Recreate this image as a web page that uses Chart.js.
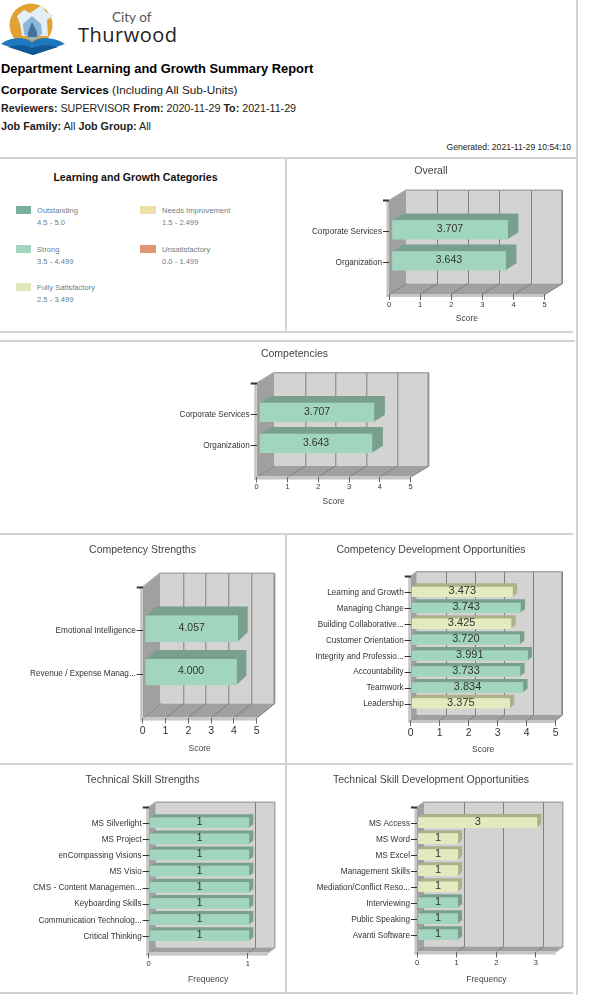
<!DOCTYPE html>
<html><head><meta charset="utf-8">
<script src="https://cdn.jsdelivr.net/npm/chart.js@4"></script>
<style>
html,body{margin:0;padding:0;background:#fff;overflow:hidden}
body{width:589px;height:995px;position:relative;font-family:"Liberation Sans",Arial,sans-serif;color:#222;filter:blur(.3px)}
.t{position:absolute;white-space:nowrap}
.l{position:absolute;background:#d3d3d3}
canvas{position:absolute}
.sw{position:absolute;width:15px;height:8px}
.lg{position:absolute;font-size:7.5px;color:#67808c;white-space:nowrap;letter-spacing:.05px}
</style></head><body>
<svg class="t" style="left:0;top:0" width="70" height="58" viewBox="0 0 70 58">
 <defs><filter id="soft"><feGaussianBlur stdDeviation=".7"/></filter></defs>
 <circle cx="31" cy="25" r="21.5" fill="#e2a133"/>
 <g filter="url(#soft)">
 <path d="M17 16 L24 10 L30 13 L42 5 L46 12 L54 15 L47 20 L48 36 L22 36 L20 24 Z" fill="#e4eef6"/>
 <path d="M23 24 L32 16 L41 24 L42 34 L32 41 L24 34 Z" fill="#8db6d8"/>
 <path d="M28 32 L32 22 L37 32 L37 37 L28 37 Z" fill="#44729c"/>
 </g>
 <path d="M1 44 C10 37 24 36 32 42 C40 36 54 37 65 44 L33 55 Z" fill="#1f78bd"/>
 <path d="M8 47 C18 44 26 45 32 48 C40 45 48 44 58 47 L33 55 Z" fill="#0f5a96"/>
</svg>
<div class="t" style="left:112px;top:9px;font:13.5px Lato,sans-serif;color:#555">City of</div>
<div class="t" style="left:78px;top:21px;font:20px 'Open Sans',sans-serif;color:#222;letter-spacing:.5px">Thurwood</div>

<div class="t" style="left:1px;top:61px;font:bold 12.9px/16px 'Liberation Sans';color:#000">Department Learning and Growth Summary Report</div>
<div class="t" style="left:1px;top:82px;font:11.75px/16px 'Liberation Sans'"><b style="color:#000">Corporate Services</b> (Including All Sub-Units)</div>
<div class="t" style="left:1px;top:100px;font:10.7px/16px 'Liberation Sans'"><b>Reviewers:</b> SUPERVISOR <b>From:</b> 2020-11-29 <b>To:</b> 2021-11-29</div>
<div class="t" style="left:1px;top:118px;font:10.8px/16px 'Liberation Sans'"><b>Job Family:</b> All <b>Job Group:</b> All</div>
<div class="t" style="right:18px;top:139px;font:8.6px/16px 'Liberation Sans'">Generated: 2021-11-29 10:54:10</div>

<div class="l" style="left:576px;top:0;width:1.5px;height:995px"></div>
<div class="l" style="left:0;top:157px;width:576px;height:1.5px"></div>
<div class="l" style="left:285px;top:157px;width:1.5px;height:174px"></div>
<div class="l" style="left:0;top:331px;width:573px;height:1.5px"></div>
<div class="l" style="left:0;top:340px;width:575px;height:1.5px"></div>
<div class="l" style="left:0;top:533px;width:573px;height:1.5px"></div>
<div class="l" style="left:285px;top:533px;width:1.5px;height:460px"></div>
<div class="l" style="left:0;top:763px;width:573px;height:1.5px"></div>
<div class="l" style="left:0;top:992px;width:573px;height:1.5px"></div>

<div class="t" style="left:0;width:271px;top:169px;text-align:center;font:bold 10.6px/16px 'Liberation Sans';color:#111">Learning and Growth Categories</div>
<div id="legend"></div>

<script>
// ---- legend ----
const legendNames = ['Outstanding','Strong','Fully Satisfactory','Needs Improvement','Unsatisfactory'];
const legendRanges = ['4.5 - 5.0','3.5 - 4.499','2.5 - 3.499','1.5 - 2.499','0.0 - 1.499'];

// ---- chart data ----
const overallCats = ['Corporate Services','Organization'];
const overallVals = [3.707,3.643];
const overallBands = ['strong','strong'];

const competencyCats = ['Corporate Services','Organization'];
const competencyVals = [3.707,3.643];
const competencyBands = ['strong','strong'];

const strengthCats = ['Emotional Intelligence','Revenue / Expense Manag...'];
const strengthVals = [4.057,4.000];
const strengthBands = ['strong','strong'];

const devCats = ['Learning and Growth','Managing Change','Building Collaborative...','Customer Orientation','Integrity and Professio...','Accountability','Teamwork','Leadership'];
const devVals = [3.473,3.743,3.425,3.720,3.991,3.733,3.834,3.375];
const devBands = ['fully','strong','fully','strong','strong','strong','strong','fully'];

const techStrengthCats = ['MS Silverlight','MS Project','enCompassing Visions','MS Visio','CMS - Content Managemen...','Keyboarding Skills','Communication Technolog...','Critical Thinking'];
const techStrengthVals = [1,1,1,1,1,1,1,1];
const techStrengthBands = ['strong','strong','strong','strong','strong','strong','strong','strong'];

const techDevCats = ['MS Access','MS Word','MS Excel','Management Skills','Mediation/Conflict Reso...','Interviewing','Public Speaking','Avanti Software'];
const techDevVals = [3,1,1,1,1,1,1,1];
const techDevBands = ['fully','fully','fully','fully','fully','strong','strong','strong'];

// ---- styling ----
const legendColors = ['#7bb0a0','#a2d5be','#deeab9','#ede0a8','#e09870'];
const legendSpots = [[16,206],[16,245],[16,283],[140,206],[140,245]];
const front = {strong:'#a2d5be',fully:'#e3ebbe'};
const side  = {strong:'#79a08d',fully:'#aeb08c'};

const lg = document.getElementById('legend');
legendNames.forEach((n,i)=>{
  const [x,y]=legendSpots[i], tx = x===16?37:162;
  lg.insertAdjacentHTML('beforeend',
   `<div class="sw" style="left:${x}px;top:${y}px;width:${x===16?15:16}px;background:${legendColors[i]}"></div>
    <div class="lg" style="left:${tx}px;top:${y}px;line-height:9px">${n}</div>
    <div class="lg" style="left:${tx}px;top:${y+11.5}px;line-height:9px">${legendRanges[i]}</div>`);
});

// depth plugin: walls, floor, bars' 3D faces all read from the chart's scales/elements
const depth3d = {
  id:'depth3d',
  afterLayout(chart){
    // keep the chart title centred on the whole cell, not on the inset plot
    if(chart.titleBlock){chart.titleBlock.left=0;chart.titleBlock.right=chart.width;}
  },
  beforeDraw(chart,_a,o){
    const {ctx,chartArea:a,scales:{x}}=chart, dx=o.dx, dy=o.dy;
    const L=a.left,R=a.right,T=a.top,B=a.bottom;
    ctx.save();
    // back wall
    ctx.fillStyle='#d3d3d3'; ctx.fillRect(L+dx,T-dy,R-L,B-T);
    // left wall
    ctx.fillStyle='#a0a0a0';
    ctx.beginPath();ctx.moveTo(L,T);ctx.lineTo(L+dx,T-dy);ctx.lineTo(L+dx,B-dy);ctx.lineTo(L,B);ctx.closePath();ctx.fill();
    // floor
    ctx.beginPath();ctx.moveTo(L,B);ctx.lineTo(L+dx,B-dy);ctx.lineTo(R+dx,B-dy);ctx.lineTo(R,B);ctx.closePath();ctx.fill();
    // wall rim
    ctx.strokeStyle='#a8a8a8';ctx.lineWidth=1.6;
    ctx.beginPath();ctx.moveTo(L,T);ctx.lineTo(L+dx,T-dy);ctx.lineTo(R+dx,T-dy);ctx.lineTo(R+dx,B-dy);ctx.lineTo(R,B);ctx.stroke();
    // grid lines
    ctx.strokeStyle='#7f7f7f';ctx.lineWidth=1;
    x.ticks.forEach((t,i)=>{
      const px=Math.round(x.getPixelForValue(t.value));
      ctx.beginPath();
      if(i>0){ctx.moveTo(px+dx+.5,T-dy);ctx.lineTo(px+dx+.5,B-dy);}
      else{ctx.moveTo(px+dx+.5,B-dy);}
      ctx.lineTo(px+.5,B);ctx.stroke();
    });
    // front lip
    ctx.fillStyle='#c6c6c6';
    ctx.fillRect(L-2.5,T,2.5,B-T+3);
    ctx.fillRect(L-2.5,B,R-L+2.5,3);
    ctx.restore();
  },
  beforeDatasetDraw(chart,args,o){
    const {ctx}=chart, meta=args.meta;
    ctx.save();
    meta.data.forEach((el,i)=>{
      const v=chart.data.datasets[args.index].data[i];
      if(v===null) return;
      const h=el.height, l=el.base+o.ox, r=el.x+o.ox, t=el.y-h/2+o.oy, b=el.y+h/2+o.oy;
      ctx.fillStyle=side[chart.data.datasets[args.index].bands[i]];
      ctx.beginPath();ctx.moveTo(l,t);ctx.lineTo(l+o.bdx,t-o.bdy);ctx.lineTo(r+o.bdx,t-o.bdy);
      ctx.lineTo(r+o.bdx,b-o.bdy);ctx.lineTo(r,b);ctx.lineTo(r,t);ctx.closePath();ctx.fill();
    });
    ctx.translate(o.ox,o.oy);
  },
  afterDatasetDraw(chart){ chart.ctx.restore(); },
  afterDatasetsDraw(chart,_a,o){
    const {ctx}=chart, ds=chart.data.datasets[0], meta=chart.getDatasetMeta(0);
    ctx.save();
    ctx.font=`${o.valueSize}px "Liberation Sans"`;ctx.fillStyle='#333';ctx.textAlign='center';ctx.textBaseline='middle';
    meta.data.forEach((el,i)=>{
      const v=ds.data[i];
      if(v===null) return;
      ctx.fillText(o.digits?v.toFixed(o.digits):String(v),(el.base+el.x)/2+o.ox,el.y+o.oy-.7+o.valueDy);
    });
    ctx.restore();
  }
};

function make(cfg){
  const c=document.createElement('canvas');
  c.width=cfg.box[2]-cfg.box[0];c.height=cfg.box[3]-cfg.box[1];
  c.style.left=cfg.box[0]+'px';c.style.top=cfg.box[1]+'px';
  document.body.appendChild(c);
  const LH=1.2, titleSize=10.5, axSize=8.5;
  const tl=titleSize*LH, al=axSize*LH;
  new Chart(c,{
    type:'bar',
    plugins:[depth3d],
    data:{
      labels:['',...cfg.cats,''],
      datasets:[{
        data:[null,...cfg.vals,null],
        bands:[null,...cfg.bands,null],
        backgroundColor:['#0000',...cfg.bands.map(b=>front[b]),'#0000'],
        borderWidth:0,
        barThickness:cfg.bar,
        clip:false
      }]
    },
    options:{
      indexAxis:'y',responsive:false,animation:false,events:[],
      layout:{padding:{left:0,top:0,bottom:0,right:cfg.box[2]-cfg.xR}},
      plugins:{
        legend:{display:false},tooltip:{enabled:false},
        title:{display:true,text:cfg.title,color:'#444',
          font:{family:'"Liberation Sans"',size:titleSize,weight:'normal',lineHeight:LH},
          padding:{top:cfg.titleY-cfg.box[1]-tl/2,bottom:cfg.yTop-cfg.titleY-tl/2}},
        depth3d:{dx:cfg.dx,dy:cfg.dy,ox:cfg.ox,oy:cfg.oy,bdx:cfg.bdx,bdy:cfg.bdy,
                 valueSize:cfg.valueSize,digits:cfg.digits,valueDy:cfg.valueDy||0}
      },
      scales:{
        x:{type:'linear',min:0,max:cfg.max,position:'bottom',
          ticks:{stepSize:1,color:'#333',maxRotation:0,minRotation:0,padding:cfg.tickPad,
                 font:{family:'"Liberation Sans"',size:cfg.tickSize}},
          grid:{drawOnChartArea:false,drawTicks:true,tickLength:6,tickColor:'#666',tickWidth:1},
          border:{display:false},
          title:{display:true,text:cfg.axis,color:'#444',
                 font:{family:'"Liberation Sans"',size:axSize,lineHeight:LH},
                 padding:{top:0,bottom:cfg.box[3]-cfg.axisY-al/2}},
          afterBuildTicks:s=>{s.ticks=s.ticks.filter(t=>Number.isInteger(t.value));},
          afterFit:s=>{s.height=cfg.box[3]-cfg.yBot;}
        },
        y:{type:'category',offset:false,position:'left',
          ticks:{autoSkip:false,color:'#333',padding:1,maxRotation:0,minRotation:0,
                 font:{family:'"Liberation Sans"',size:8.2}},
          grid:{offset:false,drawOnChartArea:false,drawTicks:true,tickLength:6,
                tickColor:ctx=>ctx.index===cfg.cats.length+1?'rgba(0,0,0,0)':'#333',
                tickWidth:ctx=>ctx.index===0?2:1},
          border:{display:false},
          afterFit:s=>{s.width=cfg.x0-cfg.box[0];}
        }
      }
    }
  });
}

const large={bar:18.7,ox:3,oy:-2,bdx:11,bdy:7,valueSize:10.5,digits:3,tickSize:7.5,tickPad:0};
make({...large,title:'Overall',axis:'Score',cats:overallCats,vals:overallVals,bands:overallBands,max:5,
  box:[286,158,576,331],x0:389,xR:544.7,yTop:200.7,yBot:294,dx:17,dy:10.5,titleY:171,axisY:318.7});
make({...large,title:'Competencies',axis:'Score',cats:competencyCats,vals:competencyVals,bands:competencyBands,max:5,
  box:[0,341,589,533],x0:256.7,xR:410.7,yTop:383.3,yBot:476.5,dx:17.3,dy:10.5,titleY:354,axisY:501.7});
make({title:'Competency Strengths',axis:'Score',cats:strengthCats,vals:strengthVals,bands:strengthBands,max:5,
  box:[0,534,285,763],x0:142.7,xR:256.7,yTop:587.3,yBot:717.5,dx:17.3,dy:14,titleY:550,axisY:748.3,
  bar:25.7,ox:2.5,oy:-2,bdx:10,bdy:9.3,valueSize:10.5,digits:3,tickSize:10.5,tickPad:1});
make({title:'Competency Development Opportunities',axis:'Score',cats:devCats,vals:devVals,bands:devBands,max:5,
  box:[286,534,576,763],x0:410.7,xR:555.7,yTop:576.7,yBot:720,dx:6,dy:5,titleY:550,axisY:750,
  bar:9.7,ox:1,oy:-.7,bdx:4.7,bdy:3.7,valueSize:11,digits:3,tickSize:10.5,tickPad:1});
make({title:'Technical Skill Strengths',axis:'Frequency',cats:techStrengthCats,vals:techStrengthVals,bands:techStrengthBands,max:1.2,
  box:[0,765,285,992],x0:148.7,xR:267.7,yTop:807.3,yBot:952.6,dx:7,dy:5,titleY:780,axisY:980,
  bar:10,ox:1,oy:-.7,bdx:4.5,bdy:3.5,valueSize:11,digits:0,tickSize:7.5,tickPad:1});
make({title:'Technical Skill Development Opportunities',axis:'Frequency',cats:techDevCats,vals:techDevVals,bands:techDevBands,max:3.5,
  box:[286,765,576,992],x0:417,xR:555.7,yTop:807.3,yBot:951.5,dx:7,dy:5,titleY:780,axisY:980,
  bar:10,ox:1,oy:-.7,bdx:4.5,bdy:3.5,valueSize:11,digits:0,tickSize:7.5,tickPad:1});
</script>
</body></html>
